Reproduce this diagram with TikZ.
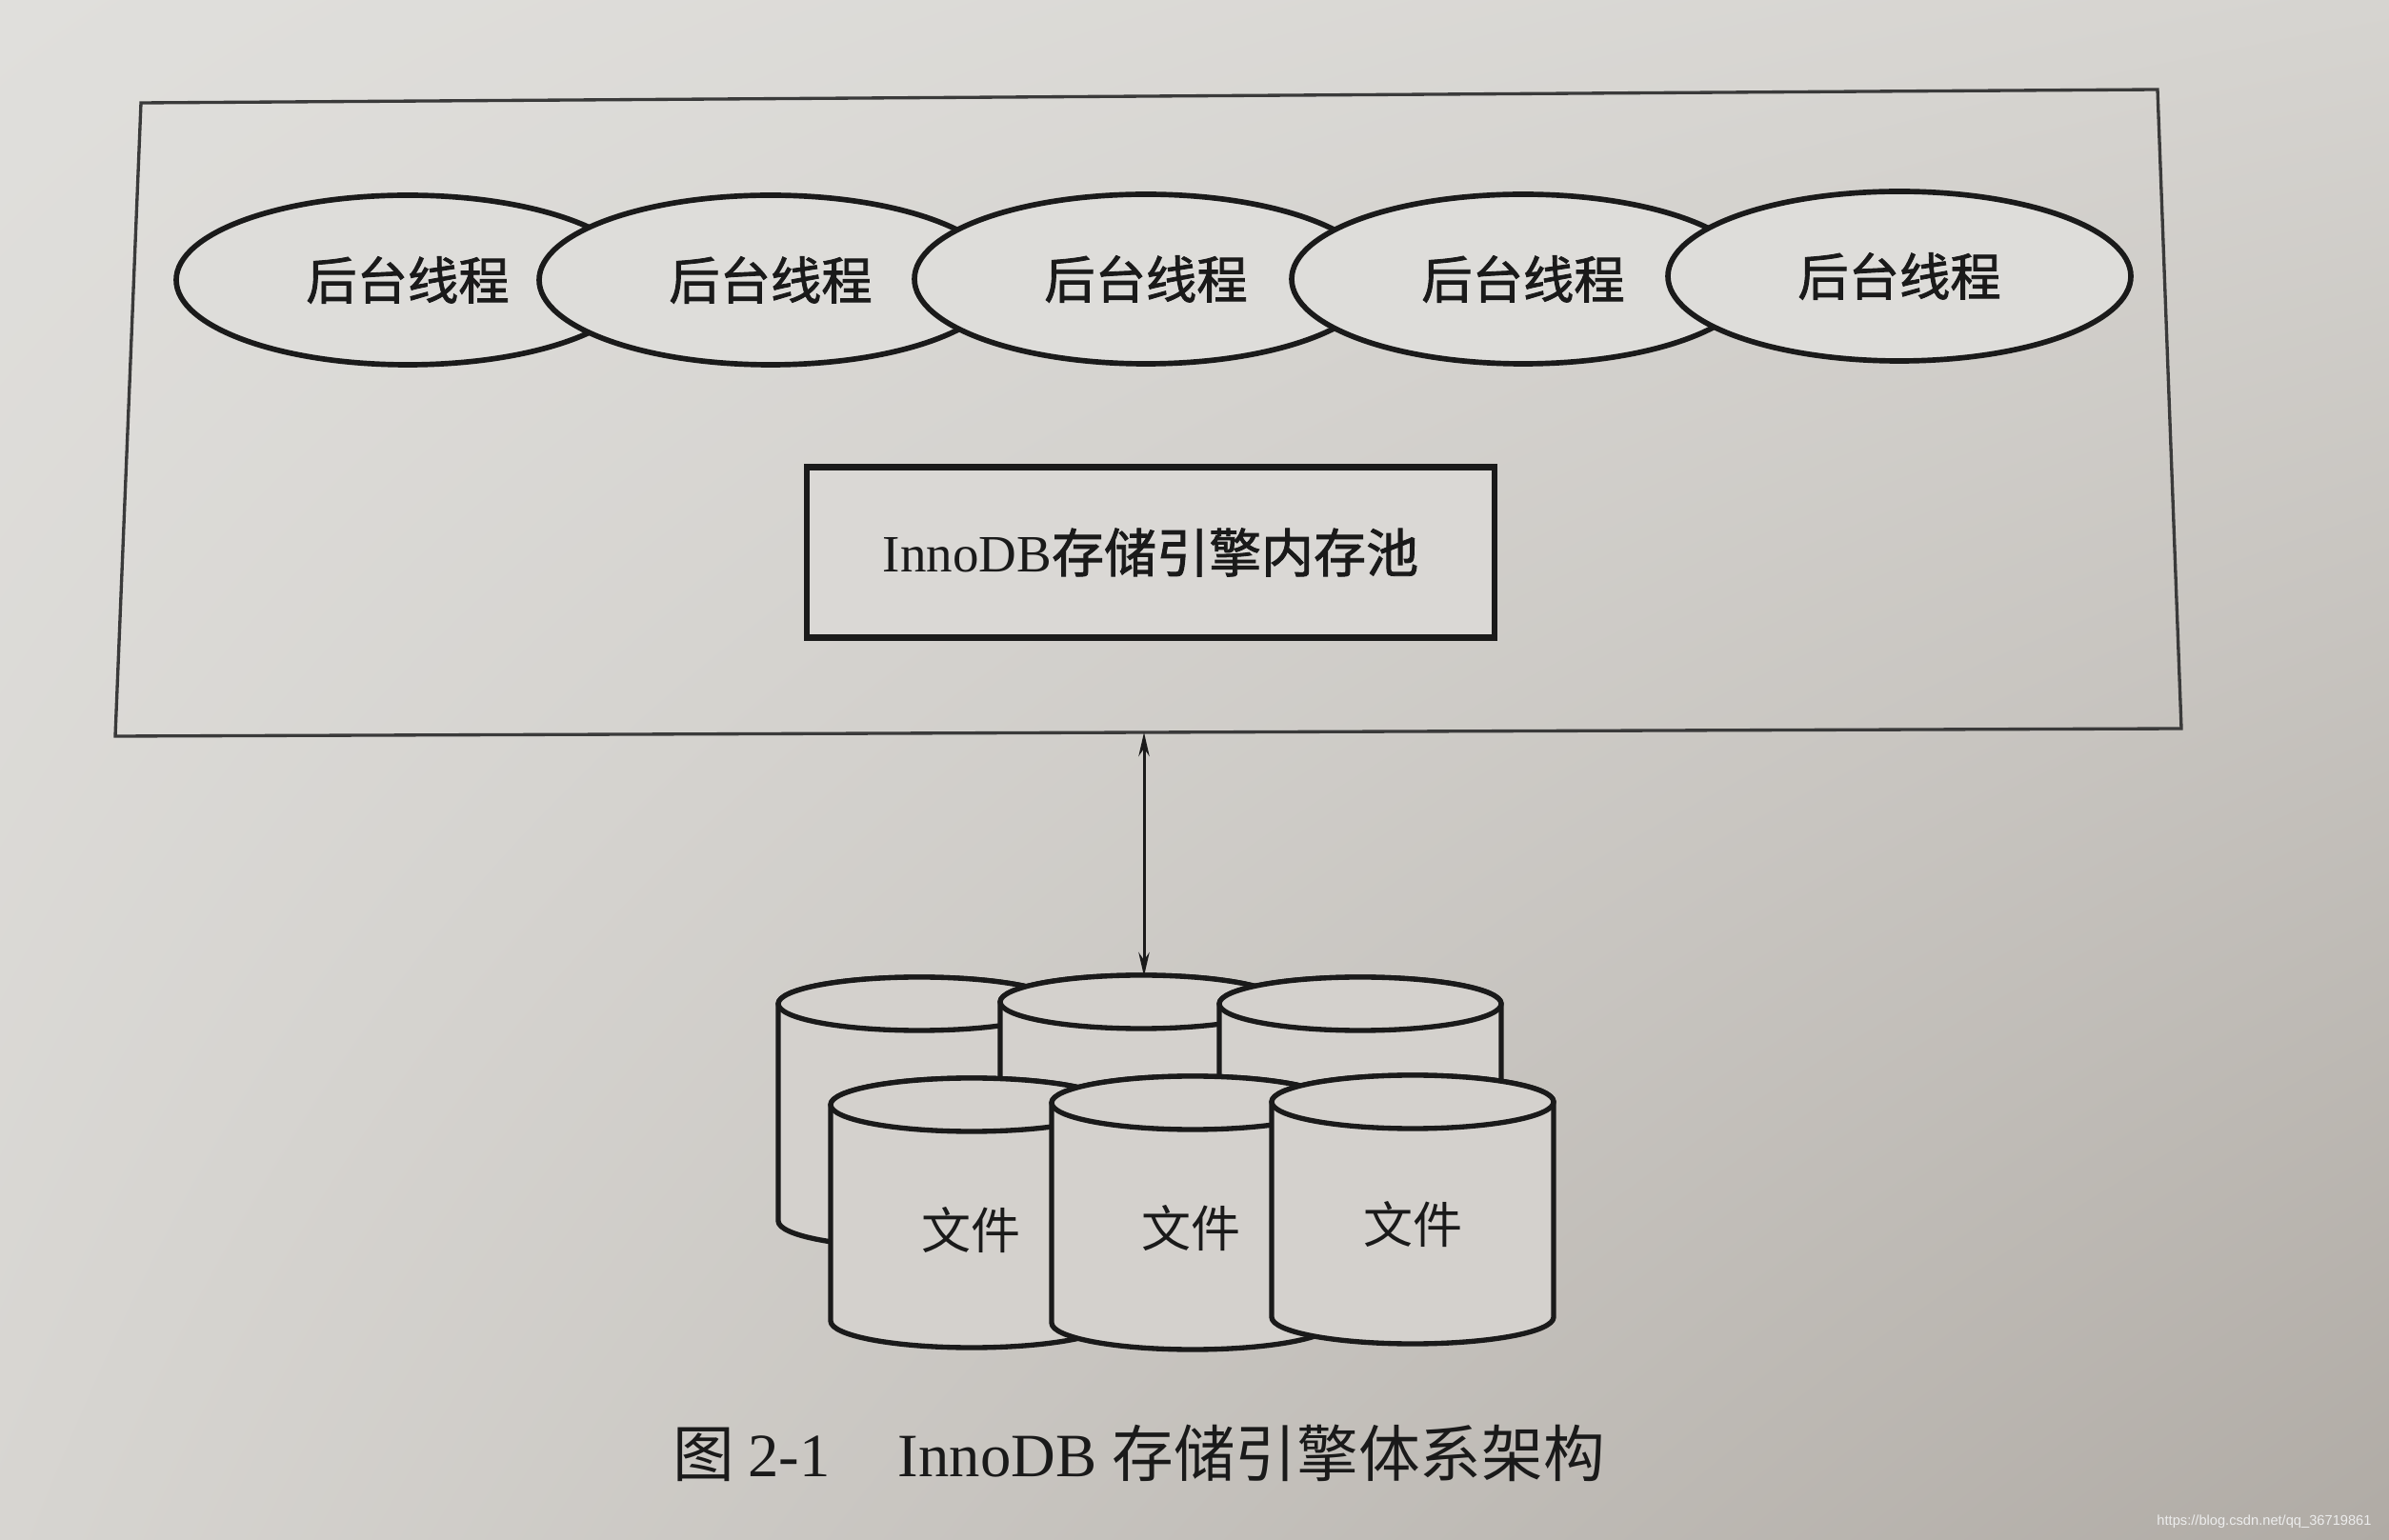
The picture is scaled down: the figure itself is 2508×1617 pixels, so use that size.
\documentclass[tikz,border=0pt]{standalone}
\usepackage{fontspec}
\setmainfont{Liberation Serif}
\newfontfamily\cjk{Noto Sans CJK SC}
\newfontfamily\cjkb[FakeBold=1.6]{Noto Sans CJK SC}
\newfontfamily\wmfont{Liberation Sans}
\usetikzlibrary{shapes.geometric,arrows.meta,shadings}
\definecolor{inkc}{HTML}{1A1A1A}
\definecolor{rectc}{HTML}{3A3A3A}
\definecolor{ellfill}{HTML}{DEDDDA}
\definecolor{boxfill}{HTML}{DAD8D5}
\definecolor{cylfill}{HTML}{D4D1CD}
\definecolor{bgUL}{HTML}{E0DFDC}
\definecolor{bgUR}{HTML}{D6D4D0}
\definecolor{bgLL}{HTML}{D7D5D1}
\definecolor{bgLR}{HTML}{B0ABA5}
\definecolor{wmc}{HTML}{EDEDED}
% #1 name, #2 centre x, #3 top centre y, #4 bottom centre y (pixels, downwards)
\newcommand\dbcyl[4]{%
  \draw[cyl] (#2-148,-#3) -- (#2-148,-#4)
    arc[start angle=180,end angle=360,x radius=148,y radius=28]
    -- (#2+148,-#3)
    arc[start angle=0,end angle=180,x radius=148,y radius=28] -- cycle;
  \draw[cyl] (#2,-#3) ellipse[x radius=148,y radius=28];
  \coordinate (#1-top) at (#2,-#3+28);
}
\begin{document}
\begin{tikzpicture}[x=0.3pt,y=0.3pt,
  ln/.style={draw=inkc, line width=1.7pt},
  thread/.style={ellipse, ln, fill=ellfill, minimum width=145.8pt,
    minimum height=53.4pt, inner sep=0pt,
    font=\cjkb\fontsize{16pt}{18pt}\selectfont, text=inkc},
  pool/.style={rectangle, draw=inkc, line width=1.9pt, fill=boxfill,
    minimum width=216.6pt, minimum height=53.7pt, inner sep=0pt,
    font=\fontsize{16.5pt}{19pt}\selectfont, text=inkc},
  cyl/.style={draw=inkc, line width=1.6pt, fill=cylfill, line join=round},
  filetext/.style={font=\cjk\fontsize{15.6pt}{18pt}\selectfont, text=inkc},
  conn/.style={draw=inkc, line width=0.9pt,
    arrows={Stealth[length=7.5pt,width=3.4pt]-Stealth[length=7.5pt,width=3.4pt]}},
  outer/.style={draw=rectc, line width=1pt, line join=miter},
  captext/.style={font=\fontsize{19.4pt}{22pt}\selectfont, text=inkc, inner sep=0pt},
]
\useasboundingbox (0,0) rectangle (2508,-1617);
\shade[upper left=bgUL, upper right=bgUR, lower left=bgLL, lower right=bgLR]
  (0,0) rectangle (2508,-1617);

% outer frame (photographed slightly skewed)
\coordinate (oTL) at (148,-108);
\coordinate (oTR) at (2265,-94);
\coordinate (oBR) at (2290,-765);
\coordinate (oBL) at (121,-773);
\draw[outer] (oTL) -- (oTR) -- (oBR) -- (oBL) -- cycle;

% background threads
\node[thread] (t1) at (428,-294) {后台线程};
\node[thread] (t2) at (809,-294) {后台线程};
\node[thread] (t3) at (1203,-293) {后台线程};
\node[thread] (t4) at (1599,-293) {后台线程};
\node[thread] (t5) at (1994,-290) {后台线程};

% memory pool
\node[pool] (pool) at (1208,-580) {InnoDB{\cjkb 存储引擎内存池}};

% files: back row
\dbcyl{cA}{965}{1054}{1282}
\dbcyl{cB}{1198}{1052}{1282}
\dbcyl{cC}{1428}{1054}{1282}
% files: front row
\dbcyl{cD}{1020}{1160}{1387}
\dbcyl{cE}{1252}{1158}{1389}
\dbcyl{cF}{1483}{1157}{1383}
\node[filetext] (fD) at (1019,-1292) {文件};
\node[filetext] (fE) at (1250,-1290) {文件};
\node[filetext] (fF) at (1483,-1286) {文件};

% connector
\coordinate (aTop) at (1201,-769);
\coordinate (aBot) at (1201,-1025);
\draw[conn] (aTop) -- (aBot);

% caption
\node[captext, anchor=west] (cap) at (706,-1526)
  {{\cjk 图}\kern0.22em 2-1\hspace{1.1em}InnoDB {\cjk 存储引擎体系架构}};

% watermark
\node[font=\wmfont\fontsize{4.4pt}{5pt}\selectfont, text=wmc, inner sep=0pt]
  (wm) at (2377,-1598) {https://blog.csdn.net/qq\_36719861};
\end{tikzpicture}
\end{document}
